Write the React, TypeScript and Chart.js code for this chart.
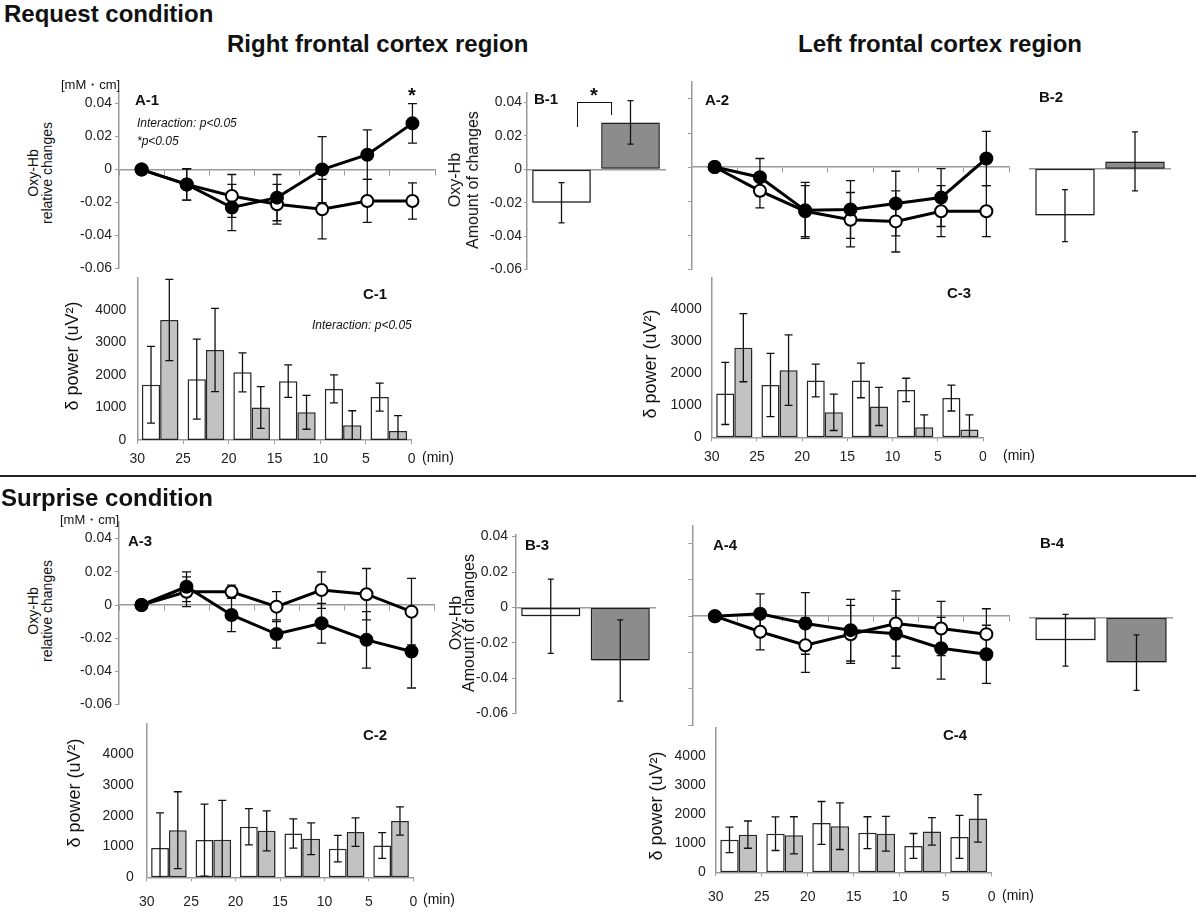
import React, { useEffect, useRef } from 'react';
import { Chart, registerables } from 'chart.js';

Chart.register(...registerables);

const FONT = '"Liberation Sans", Arial, Helvetica, sans-serif';
Chart.defaults.font.family = FONT;
Chart.defaults.color = '#222';

// ---------------- data ----------------
const timeLabels = ['30', '25', '20', '15', '10', '5', '0'];
const binLabels = ['30-25', '25-20', '20-15', '15-10', '10-5', '5-0'];
const minuteTicks = [30, 25, 20, 15, 10, 5, 0];
const oxyTicks = [-0.06, -0.04, -0.02, 0, 0.02, 0.04];
const powerTicks = [0, 1000, 2000, 3000, 4000];
const groupLabels = ['open', 'filled'];

// A-1 (request, right)
const a1Filled = [0, -0.009, -0.023, -0.017, 0, 0.009, 0.028];
const a1FilledErr = [0, 0.0095, 0.014, 0.014, 0.02, 0.015, 0.012];
const a1Open = [0, -0.009, -0.016, -0.021, -0.024, -0.019, -0.019];
const a1OpenErr = [0, 0.0095, 0.013, 0.012, 0.018, 0.013, 0.011];

// A-2 (request, left)
const a2Filled = [0, -0.006, -0.0255, -0.025, -0.0215, -0.018, 0.005];
const a2FilledErr = [0, 0.011, 0.0165, 0.017, 0.019, 0.017, 0.016];
const a2Open = [0, -0.014, -0.026, -0.031, -0.032, -0.026, -0.026];
const a2OpenErr = [0, 0.01, 0.015, 0.016, 0.018, 0.015, 0.015];

// A-3 (surprise, right)
const a3Filled = [0, 0.011, -0.006, -0.0175, -0.011, -0.021, -0.028];
const a3FilledErr = [0, 0.009, 0.01, 0.0085, 0.012, 0.017, 0.022];
const a3Open = [0, 0.008, 0.008, -0.001, 0.009, 0.0065, -0.004];
const a3OpenErr = [0, 0.009, 0.004, 0.009, 0.011, 0.0155, 0.02];

// A-4 (surprise, left)
const a4Filled = [0, 0.0013, -0.004, -0.0077, -0.0097, -0.0177, -0.021];
const a4FilledErr = [0, 0.011, 0.017, 0.017, 0.019, 0.017, 0.016];
const a4Open = [0, -0.0086, -0.016, -0.01, -0.004, -0.0068, -0.0099];
const a4OpenErr = [0, 0.01, 0.015, 0.016, 0.018, 0.015, 0.014];

// B panels: [open, filled]
const b1Values = [-0.02, 0.028];
const b1Err = [0.012, 0.013];
const b2Values = [-0.027, 0.0042];
const b2Err = [0.015, 0.017];
const b3Values = [-0.005, -0.03];
const b3Err = [0.021, 0.023];
const b4Values = [-0.012, -0.0241];
const b4Err = [0.014, 0.015];

// C panels (delta power)
const c1Open = [1700, 1870, 2080, 1810, 1570, 1320];
const c1OpenErr = [1180, 1230, 600, 500, 430, 430];
const c1Filled = [3690, 2770, 1000, 850, 450, 280];
const c1FilledErr = [1250, 1280, 640, 520, 450, 470];

const c2Open = [950, 1210, 1643, 1426, 930, 1034];
const c2OpenErr = [1140, 1170, 590, 475, 430, 420];
const c2Filled = [1530, 1220, 1510, 1250, 1468, 1830];
const c2FilledErr = [1250, 1280, 650, 515, 465, 460];

const c3Open = [1370, 1635, 1777, 1777, 1482, 1228];
const c3OpenErr = [970, 990, 510, 540, 365, 405];
const c3Filled = [2802, 2100, 782, 964, 315, 244];
const c3FilledErr = [1065, 1100, 570, 595, 385, 456];

const c4Open = [1120, 1333, 1703, 1367, 908, 1221];
const c4OpenErr = [440, 580, 740, 550, 430, 740];
const c4Filled = [1300, 1277, 1591, 1333, 1412, 1860];
const c4FilledErr = [470, 640, 805, 600, 475, 818];

// ---------------- helpers ----------------
const axisGray = '#9a9a9a';

function drawErrors(chart: any, opts: any) {
  const { ctx, chartArea } = chart;
  const ys = chart.scales.y;
  ctx.save();
  ctx.beginPath();
  ctx.rect(chartArea.left - 10, chartArea.top - 20, chartArea.right - chartArea.left + 20, chartArea.bottom - chartArea.top + 20);
  ctx.clip();
  ctx.strokeStyle = '#111';
  ctx.lineWidth = opts.width || 1.3;
  const cap = opts.cap || 4;
  chart.data.datasets.forEach((ds: any, i: number) => {
    const meta = chart.getDatasetMeta(i);
    if (!ds.errors) return;
    meta.data.forEach((el: any, j: number) => {
      const e = ds.errors[j];
      if (!e) return;
      const v = ds.data[j];
      const x = el.x;
      const yt = ys.getPixelForValue(v + e);
      const yb = ys.getPixelForValue(v - e);
      ctx.beginPath();
      ctx.moveTo(x, yt);
      ctx.lineTo(x, yb);
      ctx.moveTo(x - cap, yt);
      ctx.lineTo(x + cap, yt);
      ctx.moveTo(x - cap, yb);
      ctx.lineTo(x + cap, yb);
      ctx.stroke();
    });
  });
  ctx.restore();
}

const errorBarPlugin = {
  id: 'errbars',
  beforeDatasetsDraw(chart: any, _a: any, opts: any) {
    if (opts.behind) drawErrors(chart, opts);
    if (opts.shadow) {
      const ctx = chart.ctx;
      ctx.save();
      ctx.shadowColor = opts.shadow;
      ctx.shadowBlur = 4;
      ctx.shadowOffsetX = 1;
      ctx.shadowOffsetY = 2;
    }
  },
  afterDatasetsDraw(chart: any, _a: any, opts: any) {
    if (opts.shadow) chart.ctx.restore();
    if (!opts.behind) drawErrors(chart, opts);
  },
};

const fmtOxy = (v: any) => (Math.abs(v) < 1e-9 ? '0' : Number(v).toFixed(2));

function lineConfig(filled: number[], filledErr: number[], open: number[], openErr: number[], yMax: number, yW: number, showLabels: boolean) {
  const ds = (data: number[], errors: number[], fill: string, label: string) => ({
    label,
    data,
    errors,
    borderColor: '#000',
    borderWidth: 3,
    pointRadius: 6,
    pointBorderWidth: 2,
    pointBackgroundColor: fill,
    pointBorderColor: '#000',
    tension: 0,
  });
  return {
    type: 'line',
    data: {
      labels: timeLabels,
      datasets: [ds(filled, filledErr, '#000', 'filled'), ds(open, openErr, '#fff', 'open')],
    },
    options: {
      responsive: false,
      animation: false,
      events: [],
      plugins: { legend: { display: false }, tooltip: { enabled: false }, errbars: { behind: true, cap: 4.5 } },
      scales: {
        x: {
          type: 'category',
          position: { y: 0 },
          offset: true,
          grid: { offset: true, drawOnChartArea: false, tickLength: 5, color: axisGray },
          border: { color: axisGray, width: 1.5 },
          ticks: { display: false },
        },
        y: {
          position: 'left',
          min: -0.06,
          max: yMax,
          afterBuildTicks: (s: any) => { s.ticks = oxyTicks.map((v) => ({ value: v })); },
          afterFit: (s: any) => { s.width = yW; },
          grid: { drawOnChartArea: false, tickLength: 4, color: axisGray },
          border: { color: axisGray, width: 1.5 },
          ticks: { display: showLabels, padding: 3, font: { size: 14 }, color: '#222', callback: fmtOxy },
        },
      },
    },
    plugins: [errorBarPlugin],
  };
}

function bConfig(values: number[], errs: number[], yMax: number, yW: number, showY: boolean, tickLen: number, tickPad: number) {
  return {
    type: 'bar',
    data: {
      labels: groupLabels,
      datasets: [{
        data: values,
        errors: errs,
        backgroundColor: ['#ffffff', '#8c8c8c'],
        borderColor: '#222',
        borderWidth: 1.5,
        borderSkipped: false,
        categoryPercentage: 0.85,
        barPercentage: 1,
      }],
    },
    options: {
      responsive: false,
      animation: false,
      events: [],
      plugins: { legend: { display: false }, tooltip: { enabled: false }, errbars: { behind: false, cap: 3, shadow: 'rgba(0,0,0,0.35)' } },
      scales: {
        x: {
          position: { y: 0 },
          grid: { display: false },
          border: { color: axisGray, width: 1.5 },
          ticks: { display: false },
        },
        y: {
          display: showY,
          position: 'left',
          min: -0.06,
          max: yMax,
          afterBuildTicks: (s: any) => { s.ticks = oxyTicks.map((v) => ({ value: v })); },
          afterFit: (s: any) => { s.width = yW; },
          grid: { drawOnChartArea: false, tickLength: tickLen, color: axisGray },
          border: { color: axisGray, width: 1.5 },
          ticks: { padding: tickPad, font: { size: 14 }, color: '#222', callback: fmtOxy },
        },
      },
    },
    plugins: [errorBarPlugin],
  };
}

function cConfig(open: number[], openErr: number[], filled: number[], filledErr: number[], yW: number, xH: number, labelPad: number, yPad: number) {
  const ds = (data: number[], errors: number[], color: string, label: string) => ({
    label,
    data,
    errors,
    backgroundColor: color,
    borderColor: '#2a2a2a',
    borderWidth: 1.5,
    borderSkipped: false,
    categoryPercentage: 0.8,
    barPercentage: 1,
  });
  return {
    type: 'bar',
    data: {
      labels: binLabels,
      datasets: [ds(open, openErr, '#ffffff', 'open'), ds(filled, filledErr, '#c2c2c2', 'filled')],
    },
    options: {
      responsive: false,
      animation: false,
      events: [],
      plugins: { legend: { display: false }, tooltip: { enabled: false }, errbars: { behind: false, cap: 4, shadow: 'rgba(0,0,0,0.22)' } },
      scales: {
        x: { display: false },
        x2: {
          type: 'linear',
          axis: 'x',
          position: 'bottom',
          min: 0,
          max: 30,
          reverse: true,
          offset: false,
          afterBuildTicks: (s: any) => { s.ticks = minuteTicks.map((v) => ({ value: v })); },
          afterFit: (s: any) => { s.height = xH; },
          grid: { offset: false, drawOnChartArea: false, tickLength: 4, color: axisGray },
          border: { color: axisGray, width: 1.5 },
          ticks: { padding: labelPad, font: { size: 14 }, color: '#222', maxRotation: 0, autoSkip: false, callback: (v: any) => String(v) },
        },
        y: {
          position: 'left',
          min: 0,
          max: 5000,
          afterBuildTicks: (s: any) => { s.ticks = powerTicks.map((v) => ({ value: v })); },
          afterFit: (s: any) => { s.width = yW; },
          grid: { display: false, drawTicks: false },
          border: { color: axisGray, width: 1.5 },
          ticks: { padding: yPad, font: { size: 14 }, color: '#222', callback: (v: any) => String(v) },
        },
      },
    },
    plugins: [errorBarPlugin],
  };
}

type Area = { L: number; T: number; R: number; B: number };

function Panel({ area, yW, xH, config }: { area: Area; yW: number; xH: number; config: any }) {
  const ref = useRef<HTMLCanvasElement>(null);
  const left = Math.floor(area.L - yW - 4);
  const top = Math.floor(area.T - 14);
  const width = Math.ceil(area.R + 24) - left;
  const height = Math.ceil(area.B + xH + 4) - top;
  const padL = area.L - yW - left;
  const padT = area.T - top;
  const padR = left + width - area.R;
  const padB = top + height - area.B - xH;
  useEffect(() => {
    const cfg = config;
    cfg.options.layout = { padding: { left: padL, top: padT, right: padR, bottom: padB } };
    const chart = new Chart(ref.current as HTMLCanvasElement, cfg);
    return () => chart.destroy();
  }, []);
  return (
    <canvas
      ref={ref}
      width={width}
      height={height}
      style={{ position: 'absolute', left, top, width, height }}
    />
  );
}

function Txt({ x, base, size, bold, italic, center, children }: any) {
  return (
    <div
      style={{
        position: 'absolute',
        left: x,
        top: base - 0.8465 * size,
        fontSize: size,
        lineHeight: `${size}px`,
        fontWeight: bold ? 'bold' : 'normal',
        fontStyle: italic ? 'italic' : 'normal',
        whiteSpace: 'nowrap',
        fontFamily: FONT,
        color: '#111',
        transform: center ? 'translateX(-50%)' : undefined,
      }}
    >
      {children}
    </div>
  );
}

function VTxt({ cx, cy, size, lh, lines }: any) {
  return (
    <div
      style={{
        position: 'absolute',
        left: cx,
        top: cy,
        transform: 'translate(-50%, -50%) rotate(-90deg)',
        fontSize: size,
        lineHeight: `${lh}px`,
        textAlign: 'center',
        whiteSpace: 'nowrap',
        fontFamily: FONT,
        color: '#111',
      }}
    >
      {lines.map((l: string, i: number) => (
        <div key={i}>{l}</div>
      ))}
    </div>
  );
}

export default function App() {
  const A1: Area = { L: 119, T: 92.0, R: 435, B: 275.7 };
  const A2: Area = { L: 692, T: 82, R: 1009, B: 272.8 };
  const A3: Area = { L: 119, T: 522, R: 434, B: 711.8 };
  const A4: Area = { L: 692.3, T: 525.5, R: 1009, B: 729 };
  const B1: Area = { L: 527, T: 92.35, R: 665, B: 275.2 };
  const B2: Area = { L: 1030, T: 82, R: 1170, B: 272.8 };
  const B3: Area = { L: 516, T: 534.85, R: 655, B: 721.7 };
  const B4: Area = { L: 1030, T: 525.5, R: 1172, B: 729 };
  const C1: Area = { L: 137.3, T: 272.5, R: 411.7, B: 440 };
  const C2: Area = { L: 146.7, T: 716, R: 413.3, B: 877.3 };
  const C3: Area = { L: 711.7, T: 273.3, R: 983, B: 437.3 };
  const C4: Area = { L: 715.7, T: 723.6, R: 991.7, B: 872.3 };

  return (
    <div style={{ position: 'absolute', left: 0, top: 0, width: 1200, height: 917, overflow: 'hidden', background: '#fff', fontFamily: FONT }}>
      <Panel area={A1} yW={45} xH={0} config={lineConfig(a1Filled, a1FilledErr, a1Open, a1OpenErr, 0.047, 45, true)} />
      <Panel area={A2} yW={8} xH={0} config={lineConfig(a2Filled, a2FilledErr, a2Open, a2OpenErr, 0.05, 8, false)} />
      <Panel area={A3} yW={45} xH={0} config={lineConfig(a3Filled, a3FilledErr, a3Open, a3OpenErr, 0.05, 45, true)} />
      <Panel area={A4} yW={8} xH={0} config={lineConfig(a4Filled, a4FilledErr, a4Open, a4OpenErr, 0.05, 8, false)} />

      <Panel area={B1} yW={40} xH={0} config={bConfig(b1Values, b1Err, 0.046, 40, true, 3, 2)} />
      <Panel area={B2} yW={0} xH={0} config={bConfig(b2Values, b2Err, 0.05, 0, false, 3, 2)} />
      <Panel area={B3} yW={45} xH={0} config={bConfig(b3Values, b3Err, 0.041, 45, true, 4, 4)} />
      <Panel area={B4} yW={0} xH={0} config={bConfig(b4Values, b4Err, 0.05, 0, false, 3, 2)} />

      <Panel area={C1} yW={48} xH={26} config={cConfig(c1Open, c1OpenErr, c1Filled, c1FilledErr, 48, 26, 7, 11)} />
      <Panel area={C2} yW={50} xH={30} config={cConfig(c2Open, c2OpenErr, c2Filled, c2FilledErr, 50, 30, 12, 13)} />
      <Panel area={C3} yW={48} xH={26} config={cConfig(c3Open, c3OpenErr, c3Filled, c3FilledErr, 48, 26, 7, 10)} />
      <Panel area={C4} yW={48} xH={30} config={cConfig(c4Open, c4OpenErr, c4Filled, c4FilledErr, 48, 30, 12, 10)} />

      {/* headings */}
      <Txt x={4} base={22} size={24} bold>Request condition</Txt>
      <Txt x={227} base={52.5} size={24} bold>Right frontal cortex region</Txt>
      <Txt x={798} base={52.5} size={24} bold>Left frontal cortex region</Txt>
      <div style={{ position: 'absolute', left: 0, top: 475, width: 1196, height: 2, background: '#222' }} />
      <Txt x={1} base={506} size={24} bold>Surprise condition</Txt>

      {/* units */}
      <Txt x={61} base={89} size={13}>[mM・cm]</Txt>
      <Txt x={60} base={524.5} size={13}>[mM・cm]</Txt>

      {/* panel labels */}
      <Txt x={135} base={105} size={15} bold>A-1</Txt>
      <Txt x={534} base={103.3} size={15} bold>B-1</Txt>
      <Txt x={705} base={105} size={15} bold>A-2</Txt>
      <Txt x={1039} base={101.7} size={15} bold>B-2</Txt>
      <Txt x={363} base={299} size={15} bold>C-1</Txt>
      <Txt x={947} base={297.7} size={15} bold>C-3</Txt>
      <Txt x={128} base={545.7} size={15} bold>A-3</Txt>
      <Txt x={525} base={549.3} size={15} bold>B-3</Txt>
      <Txt x={713} base={549.3} size={15} bold>A-4</Txt>
      <Txt x={1040} base={547.7} size={15} bold>B-4</Txt>
      <Txt x={363} base={739.3} size={15} bold>C-2</Txt>
      <Txt x={943} base={739.3} size={15} bold>C-4</Txt>

      {/* annotations */}
      <Txt x={137} base={127} size={12} italic>Interaction: p&lt;0.05</Txt>
      <Txt x={137} base={145} size={12} italic>*p&lt;0.05</Txt>
      <Txt x={412} base={102} size={20} bold center>*</Txt>
      <Txt x={594} base={102} size={20} bold center>*</Txt>
      <div style={{ position: 'absolute', left: 577, top: 102, width: 33, height: 12, borderTop: '1.5px solid #111', borderLeft: '1.5px solid #111', borderRight: '1.5px solid #111' }} />
      <div style={{ position: 'absolute', left: 577, top: 114, width: 0, height: 13, borderLeft: '1.5px solid #111' }} />
      <Txt x={312} base={329} size={12} italic>Interaction: p&lt;0.05</Txt>

      {/* (min) */}
      <Txt x={422} base={461.5} size={14}>(min)</Txt>
      <Txt x={1003} base={459.5} size={14}>(min)</Txt>
      <Txt x={423} base={904} size={14}>(min)</Txt>
      <Txt x={1002} base={900} size={14}>(min)</Txt>

      {/* axis titles */}
      <VTxt cx={40} cy={173} size={14} lh={14} lines={['Oxy-Hb', 'relative changes']} />
      <VTxt cx={40} cy={611} size={14} lh={14} lines={['Oxy-Hb', 'relative changes']} />
      <VTxt cx={464} cy={180} size={16} lh={18} lines={['Oxy-Hb', 'Amount of changes']} />
      <VTxt cx={462} cy={623} size={16} lh={13} lines={['Oxy-Hb', 'Amount of changes']} />
      <VTxt cx={72} cy={356} size={18} lh={18} lines={['δ power (uV²)']} />
      <VTxt cx={74} cy={793} size={18} lh={18} lines={['δ power (uV²)']} />
      <VTxt cx={650} cy={364} size={18} lh={18} lines={['δ power (uV²)']} />
      <VTxt cx={656} cy={806} size={18} lh={18} lines={['δ power (uV²)']} />
    </div>
  );
}
